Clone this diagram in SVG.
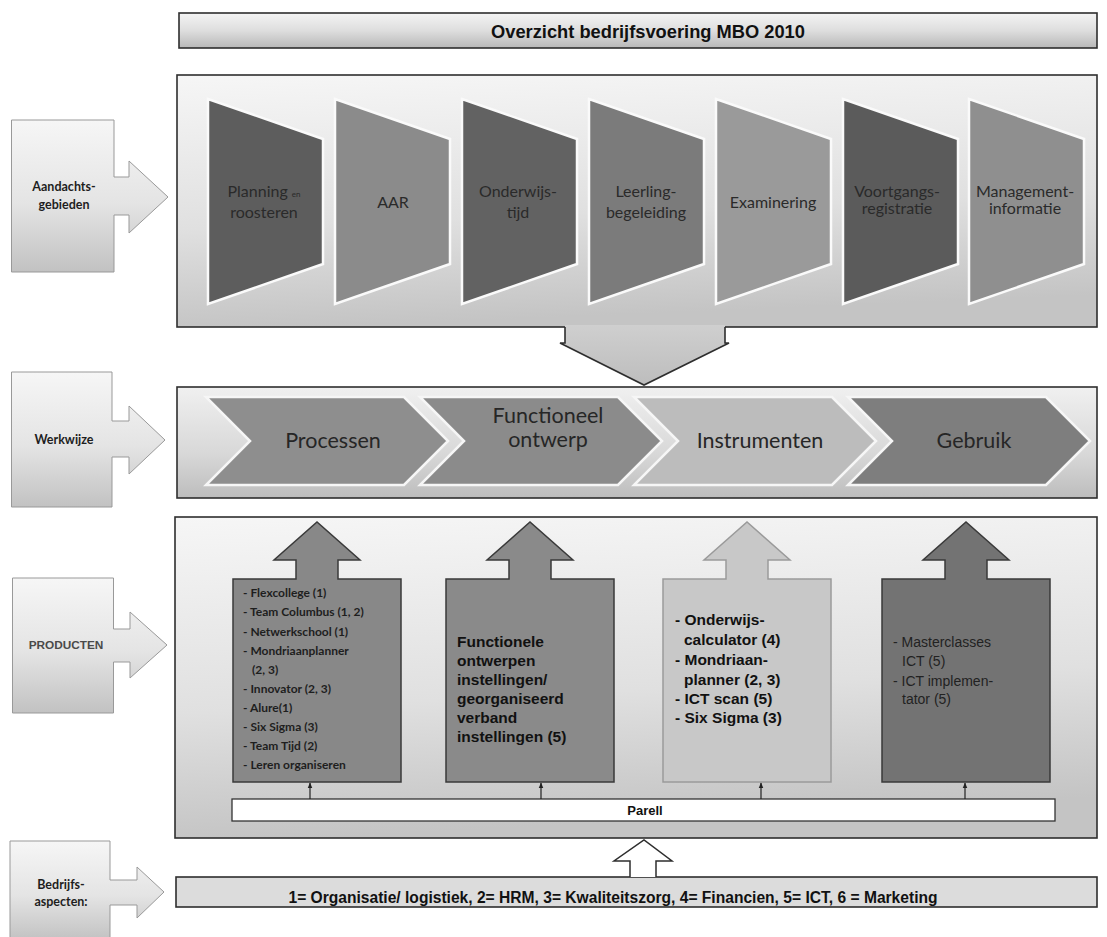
<svg xmlns="http://www.w3.org/2000/svg" width="1107" height="937" viewBox="0 0 1107 937">
  <defs>
    <linearGradient id="gLabel" x1="0" y1="0" x2="0" y2="1">
      <stop offset="0" stop-color="#f6f6f6"/>
      <stop offset="0.55" stop-color="#e4e4e4"/>
      <stop offset="1" stop-color="#c2c2c2"/>
    </linearGradient>
    <linearGradient id="gBanner" x1="0" y1="0" x2="0" y2="1">
      <stop offset="0" stop-color="#f4f4f4"/>
      <stop offset="0.5" stop-color="#dedede"/>
      <stop offset="1" stop-color="#b8b8b8"/>
    </linearGradient>
    <linearGradient id="gPanel" x1="0" y1="0" x2="0.15" y2="1">
      <stop offset="0" stop-color="#f6f6f6"/>
      <stop offset="0.6" stop-color="#e0e0e0"/>
      <stop offset="1" stop-color="#c4c4c4"/>
    </linearGradient>
    <linearGradient id="gRow" x1="0" y1="0" x2="0" y2="1">
      <stop offset="0" stop-color="#f0f0f0"/>
      <stop offset="0.6" stop-color="#d8d8d8"/>
      <stop offset="1" stop-color="#bdbdbd"/>
    </linearGradient>
    <linearGradient id="gDown" x1="0" y1="0" x2="0" y2="1">
      <stop offset="0" stop-color="#cfcfcf"/>
      <stop offset="1" stop-color="#bdbdbd"/>
    </linearGradient>
    <marker id="tick" viewBox="0 0 10 10" refX="9" refY="5" markerWidth="5" markerHeight="5" orient="auto">
      <path d="M0,1 L10,5 L0,9 Z" fill="#222"/>
    </marker>
    <style>
      .label { fill: url(#gLabel); stroke: #999; stroke-width: 1; }
      .panel { fill: url(#gPanel); stroke: #2e2e2e; stroke-width: 1.6; }
      .row { fill: url(#gRow); stroke: #2e2e2e; stroke-width: 1.6; }
      .trap { stroke: #fafafa; stroke-width: 2.5; stroke-linejoin: miter; }
      .chev { stroke: #f6f6f6; stroke-width: 2.5; stroke-linejoin: miter; }
      .prod { stroke: #3a3a3a; stroke-width: 1.5; }
      .lbl { font-family: Lato, "Open Sans", sans-serif; font-weight: 700; font-size: 12.5px; fill: #1e1e1e; text-anchor: middle; }
      .tt { font-family: Lato, "Open Sans", sans-serif; font-size: 16px; fill: #2a2a2a; text-anchor: middle; }
      .ct { font-family: Lato, "Open Sans", sans-serif; font-size: 21.5px; fill: #262626; text-anchor: middle; }
      .p1 { font-family: Lato, "Open Sans", sans-serif; font-weight: 700; font-size: 12px; fill: #1e1e1e; }
      .pa { font-family: "Liberation Sans", Arial, sans-serif; font-weight: 700; font-size: 15.5px; fill: #111; }
      .pr { font-family: "Liberation Sans", Arial, sans-serif; font-size: 14px; fill: #222; }
      .link { stroke: #222; stroke-width: 1.2; fill: none; marker-end: url(#tick); }
    </style>
  </defs>

  <rect width="1107" height="937" fill="#ffffff"/>

  <!-- title banner -->
  <g id="title">
    <rect x="179" y="13" width="918" height="35" fill="url(#gBanner)" stroke="#2e2e2e" stroke-width="1.6"/>
    <text x="648" y="38" font-family="'Liberation Sans', Arial, sans-serif" font-weight="700" font-size="18.3" fill="#111" text-anchor="middle">Overzicht bedrijfsvoering MBO 2010</text>
  </g>

  <!-- row labels with arrows -->
  <g id="label-aandacht">
    <path class="label" d="M11.5,120 H114 V177 H129 V161 L168,197 L129,233 V215 H114 V272 H11.5 Z"/>
    <text class="lbl" x="64" y="191">Aandachts-</text>
    <text class="lbl" x="64" y="209">gebieden</text>
  </g>
  <g id="label-werkwijze">
    <path class="label" d="M11.5,372 H112 V421 H129 V406 L165,440 L129,474 V457 H112 V507 H11.5 Z"/>
    <text class="lbl" x="64" y="444">Werkwijze</text>
  </g>
  <g id="label-producten">
    <path class="label" d="M12.5,578 H113.5 V629 H130 V612 L167,645 L130,678 V662 H113.5 V713 H12.5 Z"/>
    <text x="66" y="649" font-family="'Liberation Sans', Arial, sans-serif" font-weight="700" font-size="11.8" fill="#4a4a4a" text-anchor="middle">PRODUCTEN</text>
  </g>
  <g id="label-aspecten">
    <path class="label" d="M10,841 H110 V880 H137 V867 L164,892 L137,918 V905 H110 V940 H10 Z"/>
    <text class="lbl" x="61" y="889" font-size="11">Bedrijfs-</text>
    <text class="lbl" x="61" y="906" font-size="11">aspecten:</text>
  </g>

  <!-- attention areas -->
  <g id="panel-aandacht">
    <rect class="panel" x="177" y="75" width="920" height="252"/>
  </g>
  <g id="area-planning">
    <polygon class="trap" fill="#5d5d5d" points="208,99 323,139 323,264 208,304"/>
    <text class="tt" x="264" y="197" font-size="17">Planning <tspan font-size="8">en</tspan></text>
    <text class="tt" x="264" y="218" font-size="17">roosteren</text>
  </g>
  <g id="area-aar">
    <polygon class="trap" fill="#8b8b8b" points="335,99 450,139 450,264 335,304"/>
    <text class="tt" x="393" y="208">AAR</text>
  </g>
  <g id="area-onderwijstijd">
    <polygon class="trap" fill="#626262" points="462,99 577,139 577,264 462,304"/>
    <text class="tt" x="518" y="197">Onderwijs-</text>
    <text class="tt" x="518" y="218">tijd</text>
  </g>
  <g id="area-leerling">
    <polygon class="trap" fill="#7b7b7b" points="589,99 704,139 704,264 589,304"/>
    <text class="tt" x="646" y="197" font-size="16.5">Leerling-</text>
    <text class="tt" x="646" y="218" font-size="16.5">begeleiding</text>
  </g>
  <g id="area-examinering">
    <polygon class="trap" fill="#9a9a9a" points="716,99 831,139 831,264 716,304"/>
    <text class="tt" x="773" y="208" font-size="14">Examinering</text>
  </g>
  <g id="area-voortgang">
    <polygon class="trap" fill="#5b5b5b" points="843,99 958,139 958,264 843,304"/>
    <text class="tt" x="897" y="197" font-size="13">Voortgangs-</text>
    <text class="tt" x="897" y="214" font-size="13">registratie</text>
  </g>
  <g id="area-management">
    <polygon class="trap" fill="#8f8f8f" points="969,99 1084,139 1084,264 969,304"/>
    <text class="tt" x="1025" y="197" font-size="13.5">Management-</text>
    <text class="tt" x="1025" y="214" font-size="13.5">informatie</text>
  </g>

  <!-- way of working -->
  <g id="panel-werkwijze">
    <rect class="row" x="177" y="387" width="920" height="111"/>
  </g>
  <g id="step-processen">
    <polygon class="chev" fill="#8e8e8e" points="206,397 404,397 448,441 404,485 206,485 250,441"/>
    <text class="ct" x="333" y="448">Processen</text>
  </g>
  <g id="step-functioneel">
    <polygon class="chev" fill="#8b8b8b" points="420,397 618,397 662,441 618,485 420,485 464,441"/>
    <text class="ct" x="548" y="423" font-size="19">Functioneel</text>
    <text class="ct" x="548" y="447" font-size="19">ontwerp</text>
  </g>
  <g id="step-instrumenten">
    <polygon class="chev" fill="#bcbcbc" points="634,397 832,397 876,441 832,485 634,485 678,441"/>
    <text class="ct" x="760" y="448">Instrumenten</text>
  </g>
  <g id="step-gebruik">
    <polygon class="chev" fill="#7e7e7e" points="848,397 1046,397 1090,441 1046,485 848,485 892,441"/>
    <text class="ct" x="974" y="448">Gebruik</text>
  </g>

  <!-- products -->
  <g id="panel-producten">
    <rect class="panel" x="175" y="517" width="922" height="321"/>
  </g>
  <g id="product-processen">
    <path class="prod" fill="#888888" d="M233,579 H296 V560 H274 L317,522 L360,560 H338 V579 H401 V782 H233 Z"/>
    <text class="p1" x="243" y="597">- Flexcollege (1)</text>
    <text class="p1" x="243" y="616">- Team Columbus (1, 2)</text>
    <text class="p1" x="243" y="636">- Netwerkschool (1)</text>
    <text class="p1" x="243" y="655">- Mondriaanplanner</text>
    <text class="p1" x="252" y="674">(2, 3)</text>
    <text class="p1" x="243" y="693">- Innovator (2, 3)</text>
    <text class="p1" x="243" y="712">- Alure(1)</text>
    <text class="p1" x="243" y="731">- Six Sigma (3)</text>
    <text class="p1" x="243" y="750">- Team Tijd (2)</text>
    <text class="p1" x="243" y="769">- Leren organiseren</text>
  </g>
  <g id="product-ontwerp">
    <path class="prod" fill="#8a8a8a" d="M446,579 H509 V560 H487 L530,522 L573,560 H551 V579 H614 V782 H446 Z"/>
    <text class="pa" x="457" y="647">Functionele</text>
    <text class="pa" x="457" y="666">ontwerpen</text>
    <text class="pa" x="457" y="685">instellingen/</text>
    <text class="pa" x="457" y="704">georganiseerd</text>
    <text class="pa" x="457" y="723">verband</text>
    <text class="pa" x="457" y="742">instellingen (5)</text>
  </g>
  <g id="product-instrumenten">
    <path class="prod" fill="#c8c8c8" style="stroke:#9a9a9a" d="M663,579 H726 V560 H704 L747,522 L790,560 H768 V579 H831 V782 H663 Z"/>
    <text class="pa" x="675" y="625">- Onderwijs-</text>
    <text class="pa" x="684" y="645">calculator (4)</text>
    <text class="pa" x="675" y="665">- Mondriaan-</text>
    <text class="pa" x="684" y="685">planner (2, 3)</text>
    <text class="pa" x="675" y="704">- ICT scan (5)</text>
    <text class="pa" x="675" y="723">- Six Sigma (3)</text>
  </g>
  <g id="product-gebruik">
    <path class="prod" fill="#737373" d="M882,579 H945 V560 H923 L966,522 L1009,560 H987 V579 H1050 V782 H882 Z"/>
    <text class="pr" x="893" y="647">- Masterclasses</text>
    <text class="pr" x="902" y="666">ICT (5)</text>
    <text class="pr" x="893" y="686">- ICT implemen-</text>
    <text class="pr" x="902" y="704">tator (5)</text>
  </g>
  <g id="parell">
    <rect x="232" y="799" width="823" height="22" fill="#ffffff" stroke="#333" stroke-width="1.3"/>
    <text x="645" y="815" font-family="'Liberation Sans', Arial, sans-serif" font-weight="700" font-size="13" fill="#111" text-anchor="middle">Parell</text>
  </g>

  <!-- business aspects -->
  <g id="aspecten">
    <rect x="176" y="877" width="921" height="30" fill="#dcdcdc" stroke="#2e2e2e" stroke-width="1.6"/>
    <text x="613" y="903" font-family="'Liberation Sans', Arial, sans-serif" font-weight="700" font-size="15.6" fill="#111" text-anchor="middle">1= Organisatie/ logistiek, 2= HRM, 3= Kwaliteitszorg, 4= Financien, 5= ICT, 6 = Marketing</text>
  </g>

  <!-- connectors -->
  <g id="connectors">
    <!-- attention areas feed the way of working -->
    <path d="M565,325 V343 H560 L644,385 L729,343 H725 V325 Z" fill="url(#gDown)"/>
    <path d="M565,327 V343 H560 L644,385 L729,343 H725 V327" fill="none" stroke="#2e2e2e" stroke-width="1.6" stroke-linejoin="miter"/>
    <!-- business aspects feed the products -->
    <path d="M630,877 V861 H614 L644,840 L672,861 H656 V877" fill="#ffffff" stroke="#2e2e2e" stroke-width="1.5"/>
    <!-- Parell feeds each product -->
    <line class="link" x1="310" y1="799" x2="310" y2="783"/>
    <line class="link" x1="541" y1="799" x2="541" y2="783"/>
    <line class="link" x1="761" y1="799" x2="761" y2="783"/>
    <line class="link" x1="965" y1="799" x2="965" y2="783"/>
  </g>
</svg>
